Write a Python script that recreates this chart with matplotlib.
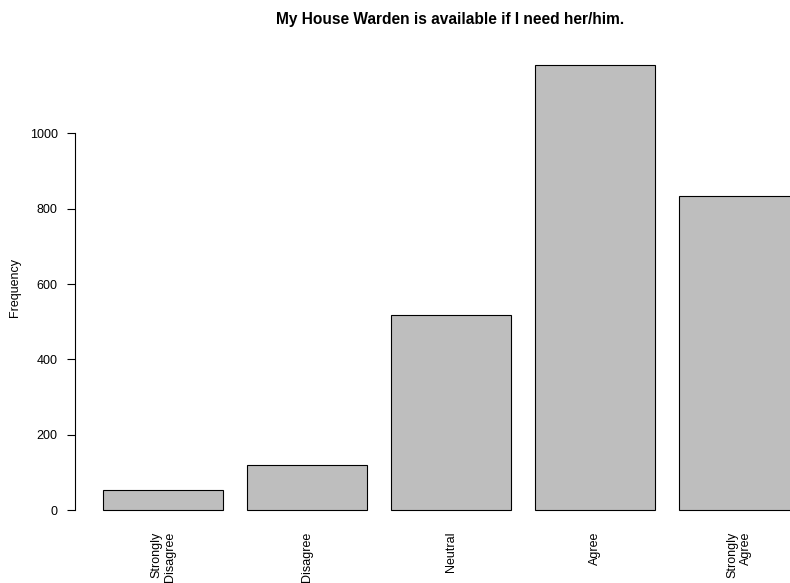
import numpy as np
import matplotlib.pyplot as plt

plt.rcParams['font.family'] = ['Liberation Sans', 'DejaVu Sans']

## data
categories = ["Strongly\nDisagree", "Disagree", "Neutral", "Agree", "Strongly\nAgree"]
counts = [53, 119, 517, 1181, 835]
yticks = [0, 200, 400, 600, 800, 1000]

# R-style barplot layout: width 1, space 0.2
x = 0.7 + 1.2 * np.arange(len(counts))

fig = plt.figure(figsize=(7.9, 5.83), dpi=100)
ax = fig.add_axes([0.0949, 0.0947, 0.9506, 0.824])

ax.bar(x, counts, width=1.0, color="#bebebe", edgecolor="black", linewidth=0.8)

ax.set_xlim(-0.032, 6.222)
ax.set_ylim(-47.2, 1228.2)

for s in ["top", "right", "bottom"]:
    ax.spines[s].set_visible(False)
ax.spines["left"].set_bounds(0, 1000)
ax.spines["left"].set_linewidth(0.8)

ax.set_yticks(yticks)
ax.set_yticklabels([str(v) for v in yticks])
ax.tick_params(axis="y", length=6, width=0.8, pad=6.5, labelsize=9)

ax.set_xticks(x)
ax.set_xticklabels(categories, rotation=90, multialignment="right")
ax.tick_params(axis="x", length=0, pad=3, labelsize=9)

ax.set_ylabel("Frequency", fontsize=9, labelpad=6)
ax.set_title("My House Warden is available if I need her/him.",
             fontsize=11.2, fontweight="bold", pad=16.5)

fig.savefig("out.png", dpi=100)
